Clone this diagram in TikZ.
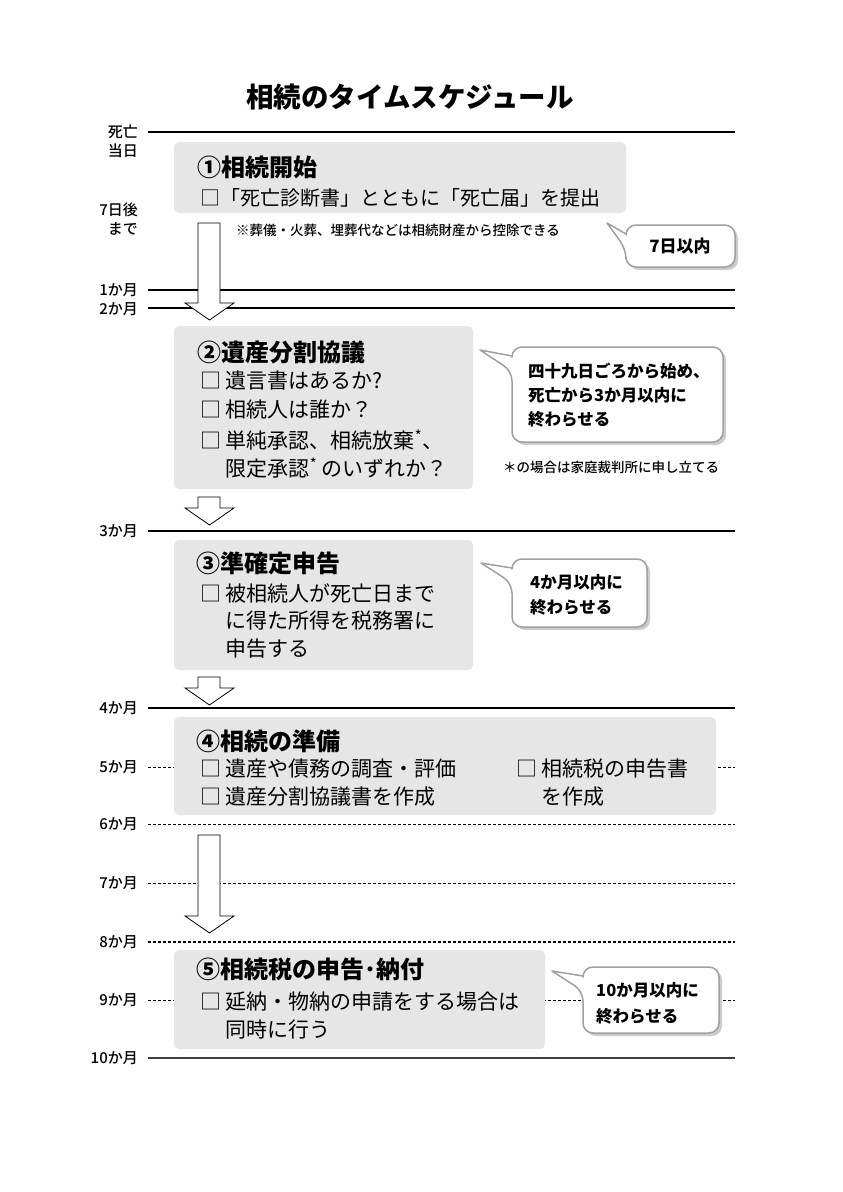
\documentclass[tikz,border=0pt]{standalone}
\usepackage{fontspec}
\setmainfont{Noto Sans CJK JP}
\newfontfamily\jpmed{Noto Sans CJK JP Medium}
\newfontfamily\jpblack{Noto Sans CJK JP Black}
\definecolor{boxgray}{HTML}{E6E6E6}
\definecolor{callborder}{HTML}{A0A0A0}
\definecolor{shadowgray}{HTML}{CCCCCC}
\definecolor{darkline}{HTML}{404040}
\tikzset{
  tline/.style={line width=1.2pt, black},
  tdash/.style={line width=0.9pt, dash pattern=on 3pt off 2pt, black},
  tdashthick/.style={line width=1.6pt, dash pattern=on 3pt off 2pt, black},
  stepbg/.style={fill=boxgray, rounded corners=5pt},
  blockarr/.style={draw=black, fill=white, line width=0.8pt, line join=miter},
  lbl/.style={anchor=east, inner sep=0pt, font=\fontsize{15}{15}\selectfont\jpmed},
  ttl/.style={anchor=west, inner sep=0pt, font=\fontsize{24}{24}\selectfont\bfseries},
  body/.style={anchor=west, inner sep=0pt, font=\fontsize{21}{21}\selectfont},
  calltxt/.style={anchor=west, inner sep=0pt, font=\fontsize{16.5}{16.5}\selectfont\bfseries},
  notetxt/.style={anchor=west, inner sep=0pt, font=\fontsize{13.5}{13.5}\selectfont\jpmed},
  callbox/.style={draw=callborder, fill=white, line width=1.5pt, line join=round},
}
% block arrow: top y, wing y, tip y
\newcommand{\myblockarrow}[3]{%
  \draw[blockarr] (198,#1) -- (220,#1) -- (220,#2) -- (234,#2) -- (209.5,#3) -- (185,#2) -- (198,#2) -- cycle;}
% callout: x0 y0 x1 y1 tipx tipy
\newcommand{\mycallout}[6]{%
  \fill[shadowgray, rounded corners=10pt] ({#1+3},{#2+3}) rectangle ({#3+3},{#4+3});
  \draw[callbox] ({(#1+#3)/2},#2) [rounded corners=10pt] -- (#3,#2) -- (#3,#4) -- (#1,#4) -- (#1,{#2+24}) [sharp corners] -- (#5,#6) -- (#1,{#2+9}) [rounded corners=10pt] -- (#1,#2) -- cycle;}
\begin{document}
\begin{tikzpicture}[x=1pt,y=-1pt]
\useasboundingbox (0,0) rectangle (843,1192);
\fill[white] (0,0) rectangle (843,1192);

% title
\node[inner sep=0pt, font=\fontsize{27.5}{27.5}\selectfont\jpblack] (title) at (410,97) {相続のタイムスケジュール};

% timeline lines
\draw[tline] (148,132) -- (735,132);
\draw[tline] (148,290) -- (735,290);
\draw[tline] (148,308) -- (735,308);
\draw[tline] (148,531) -- (735,531);
\draw[tline] (148,708) -- (735,708);
\draw[tdash] (148,767) -- (735,767);
\draw[tdash] (148,824) -- (735,824);
\draw[tdash] (148,883) -- (735,883);
\draw[tdashthick] (148,942) -- (735,942);
\draw[tdash] (148,1000) -- (735,1000);
\draw[line width=2.5pt, darkline] (148,1058) -- (735,1058);

% labels
\node[lbl] (l0a) at (138,132) {死亡};
\node[lbl] (l0b) at (138,151) {当日};
\node[lbl] (l7a) at (138,210) {7日後};
\node[lbl] (l7b) at (138,229) {まで};
\node[lbl] (l1) at (138,290) {1か月};
\node[lbl] (l2) at (138,309) {2か月};
\node[lbl] (l3) at (138,531) {3か月};
\node[lbl] (l4) at (138,708) {4か月};
\node[lbl] (l5) at (138,767) {5か月};
\node[lbl] (l6) at (138,824) {6か月};
\node[lbl] (l7) at (138,883) {7か月};
\node[lbl] (l8) at (138,942) {8か月};
\node[lbl] (l9) at (138,1000) {9か月};
\node[lbl] (l10) at (138,1058) {10か月};

% step boxes
\path[stepbg] (174,142) rectangle (626,213);
\path[stepbg] (174,326) rectangle (473,489);
\path[stepbg] (174,540) rectangle (473,670);
\path[stepbg] (174,717) rectangle (716,815);
\path[stepbg] (174,950) rectangle (545,1049);

% arrows
\myblockarrow{223}{303}{320}
\myblockarrow{497}{508}{525}
\myblockarrow{677}{688}{705}
\myblockarrow{835}{916}{933}

% box 1
\node[ttl] (t1) at (197,167) {①相続開始};
\node[body, font=\fontsize{20}{20}\selectfont] (b1a) at (200,198) {□「死亡診断書」とともに「死亡届」を提出};
\node[notetxt] (n1) at (236,230) {※葬儀・火葬、埋葬代などは相続財産から控除できる};

% box 2
\node[ttl] (t2) at (197,352) {②遺産分割協議};
\node[body] (b2a) at (200,381) {□ 遺言書はあるか?};
\node[body] (b2b) at (200,410) {□ 相続人は誰か？};
\node[body] (b2c) at (200,440) {□ 単純承認、相続放棄\textsuperscript{*}、};
\node[body] (b2d) at (200,468) {\phantom{□ }限定承認\textsuperscript{*} のいずれか？};
\node[notetxt] (n2) at (503,467) {＊の場合は家庭裁判所に申し立てる};

% box 3
\node[ttl] (t3) at (196,563) {③準確定申告};
\node[body] (b3a) at (200,593) {□ 被相続人が死亡日まで};
\node[body] (b3b) at (200,621) {\phantom{□ }に得た所得を税務署に};
\node[body] (b3c) at (200,649) {\phantom{□ }申告する};

% box 4
\node[ttl] (t4) at (196,741) {④相続の準備};
\node[body] (b4a) at (200,769) {□ 遺産や債務の調査・評価};
\node[body] (b4b) at (200,797) {□ 遺産分割協議書を作成};
\node[body] (b4c) at (516,769) {□ 相続税の申告書};
\node[body] (b4d) at (516,797) {\phantom{□ }を作成};

% box 5
\node[ttl] (t5) at (196,969) {⑤相続税の申告･納付};
\node[body] (b5a) at (200,1002) {□ 延納・物納の申請をする場合は};
\node[body] (b5b) at (200,1030) {\phantom{□ }同時に行う};

% callouts
\mycallout{626}{225}{735}{267}{607}{223}
\node[inner sep=0pt, font=\fontsize{17}{17}\selectfont\bfseries] (c1) at (680,246) {7日以内};

\mycallout{512}{347}{723}{442}{480}{350}
\node[calltxt] (c2a) at (528,371) {四十九日ごろから始め、};
\node[calltxt] (c2b) at (528,395) {死亡から3か月以内に};
\node[calltxt] (c2c) at (528,419) {終わらせる};

\mycallout{512}{559}{647}{627}{481}{563}
\node[calltxt] (c3a) at (530,582) {4か月以内に};
\node[calltxt] (c3b) at (530,607) {終わらせる};

\mycallout{583}{967}{719}{1033}{552}{971}
\node[calltxt] (c5a) at (596,990) {10か月以内に};
\node[calltxt] (c5b) at (596,1016) {終わらせる};
\end{tikzpicture}
\end{document}
